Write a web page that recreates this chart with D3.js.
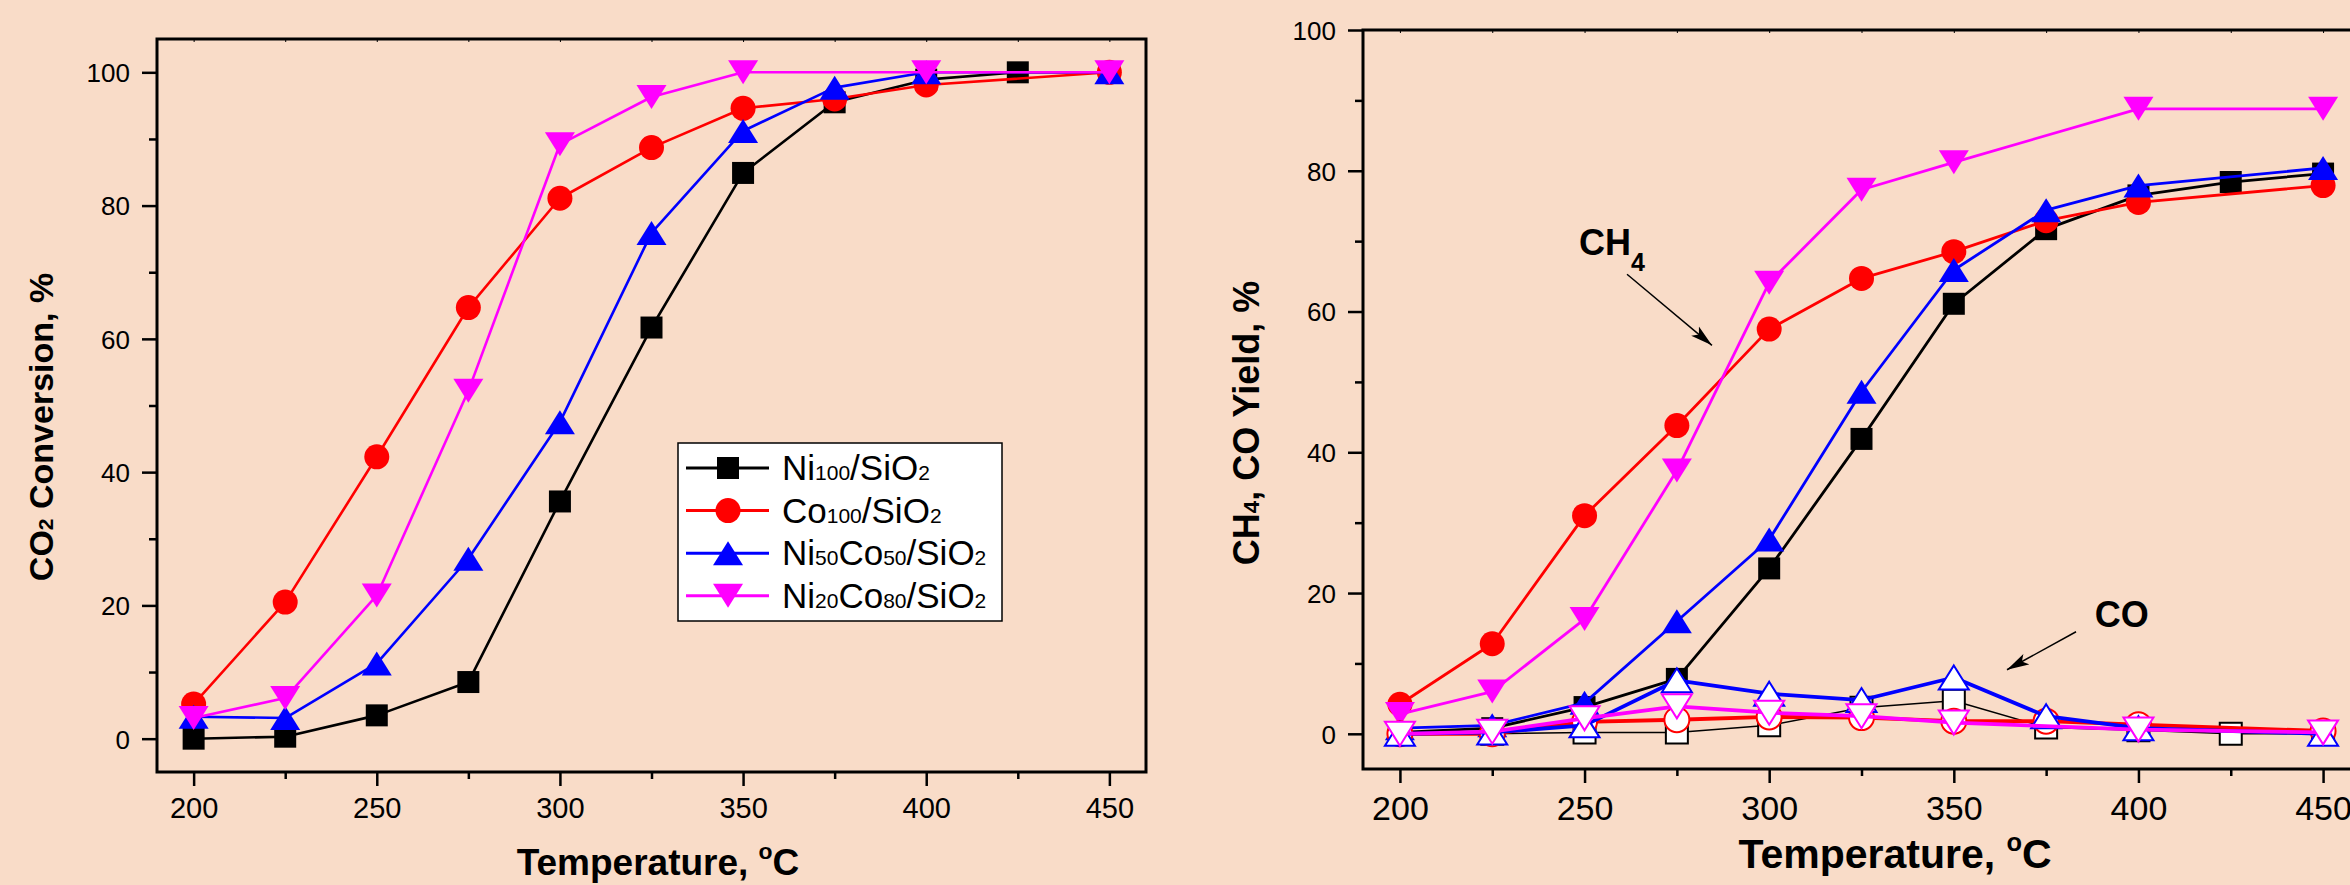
<!DOCTYPE html>
<html>
<head>
<meta charset="utf-8">
<script src="https://cdn.jsdelivr.net/npm/d3@7"></script>
<style>
  body { margin: 0; background: #f9dcc8; }
  text { font-family: "Liberation Sans", Arial, sans-serif; fill: #000; }
</style>
</head>
<body>
<svg id="chart" width="2350" height="885"></svg>
<script>
/* CO2 methanation over Ni/Co catalysts - two panels */

// ---- data ----
const temps = [200, 225, 250, 275, 300, 325, 350, 375, 400, 425, 450];

// left panel: CO2 conversion, %
const convNi100     = [0, 0.3, 3.5, 8.5, 35.6, 61.7, 84.9, 95.5, 98.9, 100, 100];
const convCo100     = [5.2, 20.5, 42.3, 64.7, 81.1, 88.7, 94.6, 96.0, 98.1, null, 100];
const convNi50Co50  = [3.3, 3.1, 11.3, 27.0, 47.5, 75.9, 91.2, 97.7, 100, null, 100];
const convNi20Co80  = [3.1, 6.1, 21.5, 52.2, 89.2, 96.3, 100, null, 100, null, 100];

// right panel: CH4 yield, %
const ch4Ni100      = [0.2, 0.8, 3.8, 7.8, 23.5, 41.9, 61.1, 71.7, 76.5, 78.4, 79.6];
const ch4Co100      = [4.2, 12.8, 31.0, 43.8, 57.5, 64.7, 68.5, 72.9, 75.5, null, 77.9];
const ch4Ni50Co50   = [0.8, 1.2, 4.4, 16.0, 27.6, 48.6, 65.9, 74.4, 77.9, null, 80.4];
const ch4Ni20Co80   = [2.8, 6.0, 16.3, 37.4, 64.1, 77.3, 81.2, null, 88.8, null, 88.8];

// right panel: CO yield, %
const coNi100       = [0, 0, 0.2, 0.2, 1.2, 3.7, 4.7, 0.9, 0.5, 0, 0];
const coCo100       = [0, 0, 1.7, 2.0, 2.4, 2.3, 1.8, 1.8, 1.3, null, 0.4];
const coNi50Co50    = [0, 0.2, 1.2, 7.6, 5.7, 4.8, 8.0, 2.5, 0.8, null, 0];
const coNi20Co80    = [0, 0.3, 2.2, 3.9, 3.0, 2.5, 1.6, null, 0.6, null, 0.2];

const xMajor = [200, 250, 300, 350, 400, 450];
const xMinor = [225, 275, 325, 375, 425];
const yMajor = [0, 20, 40, 60, 80, 100];
const yMinor = [10, 30, 50, 70, 90];

// legend labels, split into [text, kind] pieces
const legendLabels = [
  [["Ni", ""], ["100", "sub"], ["/SiO", ""], ["2", "sub"]],
  [["Co", ""], ["100", "sub"], ["/SiO", ""], ["2", "sub"]],
  [["Ni", ""], ["50", "sub"], ["Co", ""], ["50", "sub"], ["/SiO", ""], ["2", "sub"]],
  [["Ni", ""], ["20", "sub"], ["Co", ""], ["80", "sub"], ["/SiO", ""], ["2", "sub"]]
];

const colors = ["#000000", "#ff0000", "#0000ff", "#ff00ff"];
const shapes = ["square", "circle", "up", "down"];

// ---- helpers ----
const svg = d3.select("#chart");

// bbox-centred triangles (the origin style symbols)
const triUp = { draw(ctx, size) {
  const w = Math.sqrt(size), h = w * 0.8;
  ctx.moveTo(0, -h / 2); ctx.lineTo(w / 2, h / 2); ctx.lineTo(-w / 2, h / 2); ctx.closePath();
}};
const triDown = { draw(ctx, size) {
  const w = Math.sqrt(size), h = w * 0.8;
  ctx.moveTo(0, h / 2); ctx.lineTo(w / 2, -h / 2); ctx.lineTo(-w / 2, -h / 2); ctx.closePath();
}};
const symbolPath = {
  square: d3.symbol().type(d3.symbolSquare).size(22 * 22),
  circle: d3.symbol().type(d3.symbolCircle).size(Math.PI * 12.5 * 12.5),
  up: d3.symbol().type(triUp).size(30 * 30),
  down: d3.symbol().type(triDown).size(30 * 30)
};

function richText(sel, parts, size, small) {
  let shift = 0;
  parts.forEach(([s, kind]) => {
    const target = kind === "sup" ? -0.42 * size : kind === "low" ? 0.45 * size : 0;
    sel.append("tspan")
      .text(s)
      .attr("font-size", kind ? small : size)
      .attr("dy", target - shift);
    shift = target;
  });
}

function toPoints(vals) {
  return temps.map((t, i) => ({ t: t, v: vals[i] })).filter(d => d.v != null);
}

function drawSeries(g, x, y, vals, i, opts) {
  const pts = toPoints(vals);
  const line = d3.line().x(d => x(d.t)).y(d => y(d.v));
  g.append("path")
    .attr("d", line(pts))
    .attr("fill", "none")
    .attr("stroke", colors[i])
    .attr("stroke-width", opts.lineWidth)
    .attr("stroke-linejoin", "round");
  g.selectAll(null)
    .data(pts)
    .enter()
    .append("path")
    .attr("d", symbolPath[shapes[i]]())
    .attr("transform", d => `translate(${x(d.t)},${y(d.v)})`)
    .attr("fill", opts.open ? "#ffffff" : colors[i])
    .attr("stroke", colors[i])
    .attr("stroke-width", opts.open ? 2 : 0);
}

function drawFrame(cfg) {
  const g = svg.append("g");
  const x = d3.scaleLinear().domain([190, 460]).range([cfg.left, cfg.right]);
  const y = d3.scaleLinear().domain(cfg.yDomain).range([cfg.bottom, cfg.top]);

  // x axis, major + minor
  const xa = g.append("g").attr("transform", `translate(0,${cfg.bottom})`)
    .call(d3.axisBottom(x).tickValues(xMajor).tickSize(14).tickFormat(d3.format("d")));
  xa.selectAll("text")
    .attr("y", cfg.xLabelBase - cfg.bottom).attr("dy", null)
    .attr("font-size", cfg.xTickFont);
  g.append("g").attr("transform", `translate(0,${cfg.bottom})`)
    .call(d3.axisBottom(x).tickValues(xMinor).tickSize(7).tickFormat(""));

  // y axis, major + minor
  const ya = g.append("g").attr("transform", `translate(${cfg.left},0)`)
    .call(d3.axisLeft(y).tickValues(yMajor).tickSize(15).tickPadding(12));
  ya.selectAll("text").attr("font-size", cfg.yTickFont).attr("dy", "0.36em");
  g.append("g").attr("transform", `translate(${cfg.left},0)`)
    .call(d3.axisLeft(y).tickValues(yMinor).tickSize(8).tickFormat(""));

  g.selectAll(".domain").remove();
  g.selectAll(".tick line").attr("stroke", "#000").attr("stroke-width", 2.5);
  g.selectAll(".tick text").attr("fill", "#000").attr("font-family", "Liberation Sans, Arial, sans-serif");

  // little inward ticks on top edge
  g.append("g").attr("transform", `translate(0,${cfg.top})`)
    .call(d3.axisTop(x).tickValues(xMajor.concat(xMinor)).tickSize(-3).tickFormat(""))
    .call(s => s.select(".domain").remove())
    .selectAll("line").attr("stroke", "#000").attr("stroke-width", 1);

  // frame
  g.append("rect")
    .attr("x", cfg.left).attr("y", cfg.top)
    .attr("width", cfg.right - cfg.left).attr("height", cfg.bottom - cfg.top)
    .attr("fill", "none").attr("stroke", "#000").attr("stroke-width", 3);

  // titles
  const xt = g.append("text")
    .attr("x", cfg.xTitleX).attr("y", cfg.xTitleY)
    .attr("text-anchor", "middle").attr("font-weight", "bold");
  richText(xt, [["Temperature, ", ""], ["o", "sup"], ["C", ""]], cfg.xTitleFont, cfg.xTitleFont * 0.62);

  const yt = g.append("text")
    .attr("transform", `translate(${cfg.yTitleX},${cfg.yTitleY}) rotate(-90)`)
    .attr("text-anchor", "middle").attr("font-weight", "bold");
  richText(yt, cfg.yTitle, cfg.yTitleFont, cfg.yTitleFont * 0.62);

  return { g: g, x: x, y: y };
}

// ---- left panel ----
const left = drawFrame({
  left: 157, right: 1146, top: 39, bottom: 772, yDomain: [-5, 105],
  xTickFont: 29, yTickFont: 26, xLabelBase: 818,
  xTitleX: 658, xTitleY: 875, xTitleFont: 37,
  yTitleX: 53, yTitleY: 427, yTitleFont: 34,
  yTitle: [["CO", ""], ["2", "sub"], [" Conversion, %", ""]]
});
[convNi100, convCo100, convNi50Co50, convNi20Co80].forEach((vals, i) =>
  drawSeries(left.g, left.x, left.y, vals, i, { lineWidth: 2.6, open: false }));

// legend
const leg = svg.append("g");
leg.append("rect").attr("x", 678).attr("y", 443).attr("width", 324).attr("height", 178)
  .attr("fill", "#ffffff").attr("stroke", "#000").attr("stroke-width", 1.5);
legendLabels.forEach((parts, i) => {
  const cy = 468 + i * 42.6;
  leg.append("line").attr("x1", 686).attr("x2", 769).attr("y1", cy).attr("y2", cy)
    .attr("stroke", colors[i]).attr("stroke-width", 3);
  leg.append("path").attr("d", symbolPath[shapes[i]]())
    .attr("transform", `translate(728,${cy})`).attr("fill", colors[i]);
  const t = leg.append("text").attr("x", 782).attr("y", cy + 12);
  richText(t, parts, 35, 21);
});

// ---- right panel ----
const right = drawFrame({
  left: 1363, right: 2360, top: 30, bottom: 769, yDomain: [-5, 100],
  xTickFont: 34, yTickFont: 26, xLabelBase: 820,
  xTitleX: 1895, xTitleY: 868, xTitleFont: 41,
  yTitleX: 1259, yTitleY: 423, yTitleFont: 36,
  yTitle: [["CH", ""], ["4", "sub"], [", CO Yield, %", ""]]
});
[ch4Ni100, ch4Co100, ch4Ni50Co50, ch4Ni20Co80].forEach((vals, i) =>
  drawSeries(right.g, right.x, right.y, vals, i, { lineWidth: 2.8, open: false }));
[coNi100, coCo100, coNi50Co50, coNi20Co80].forEach((vals, i) =>
  drawSeries(right.g, right.x, right.y, vals, i, { lineWidth: i === 0 ? 1.5 : 3.8, open: true }));

// annotations (positions in data units)
svg.append("defs").append("marker")
  .attr("id", "arrow").attr("markerUnits", "userSpaceOnUse")
  .attr("viewBox", "0 -7 22 14").attr("refX", 22).attr("refY", 0)
  .attr("markerWidth", 22).attr("markerHeight", 14).attr("orient", "auto")
  .append("path").attr("d", "M0,-6L22,0L0,6L5,0Z").attr("fill", "#000");

const notes = [
  { label: [["CH", ""], ["4", "low"]], t: 248.5, v: 68.0, from: [261.5, 65.3], to: [284.5, 55.2] },
  { label: [["CO", ""]], t: 388.2, v: 15.2, from: [383.1, 14.5], to: [364.4, 9.1] }
];
notes.forEach(n => {
  const t = svg.append("text").attr("x", right.x(n.t)).attr("y", right.y(n.v)).attr("font-weight", "bold");
  richText(t, n.label, 36, 25);
  svg.append("line")
    .attr("x1", right.x(n.from[0])).attr("y1", right.y(n.from[1]))
    .attr("x2", right.x(n.to[0])).attr("y2", right.y(n.to[1]))
    .attr("stroke", "#000").attr("stroke-width", 1.5).attr("marker-end", "url(#arrow)");
});
</script>
</body>
</html>
